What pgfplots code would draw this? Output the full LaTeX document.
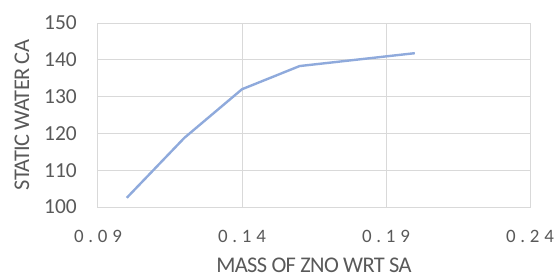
\documentclass[border=0pt]{standalone}
\usepackage{fontspec}
\setmainfont{Carlito}
\usepackage{pgfplots}
\pgfplotsset{compat=1.18}
\definecolor{txt}{RGB}{89,89,89}
\definecolor{gridc}{RGB}{217,217,217}
\definecolor{linec}{RGB}{143,170,220}
\begin{document}
\begin{tikzpicture}
\useasboundingbox (-98bp,-73bp) rectangle (461bp,207bp);
\begin{axis}[
  scale only axis, width=432bp, height=184bp,
  xmin=0.09, xmax=0.24, ymin=100, ymax=150,
  xtick={0.09,0.14,0.19,0.24}, ytick={100,110,...,150},
  xticklabels={0.09,0.14,0.19,0.24},
  grid=major, major grid style={gridc, line width=1bp},
  axis line style={gridc, line width=1bp},
  tick style={draw=none},
  /pgf/number format/assume math mode=true,
  yticklabel style={font=\fontsize{21.5}{21.5}\selectfont, text=txt, inner sep=0pt, anchor=east, xshift=-21bp},
  xticklabel style={font=\fontsize{19}{19}\selectfont\addfontfeature{LetterSpace=25}, text=txt, inner sep=0pt, anchor=north, yshift=-23bp},
  xlabel={MASS OF ZNO WRT SA}, ylabel={STATIC WATER CA},
  label style={font=\fontsize{22.5}{22.5}\selectfont\addfontfeature{LetterSpace=-3}, text=txt, inner sep=0pt},
  xlabel style={at={(axis description cs:0.5,-0.315)}, anchor=center},
  ylabel style={at={(axis description cs:-0.1759,0.5)}, anchor=center},
]
\addplot[linec, line width=2.4bp, line join=round] coordinates {
(0.10,102.5) (0.12,118.8) (0.14,132.0) (0.16,138.3) (0.20,141.8)
};
\end{axis}
\end{tikzpicture}
\end{document}
